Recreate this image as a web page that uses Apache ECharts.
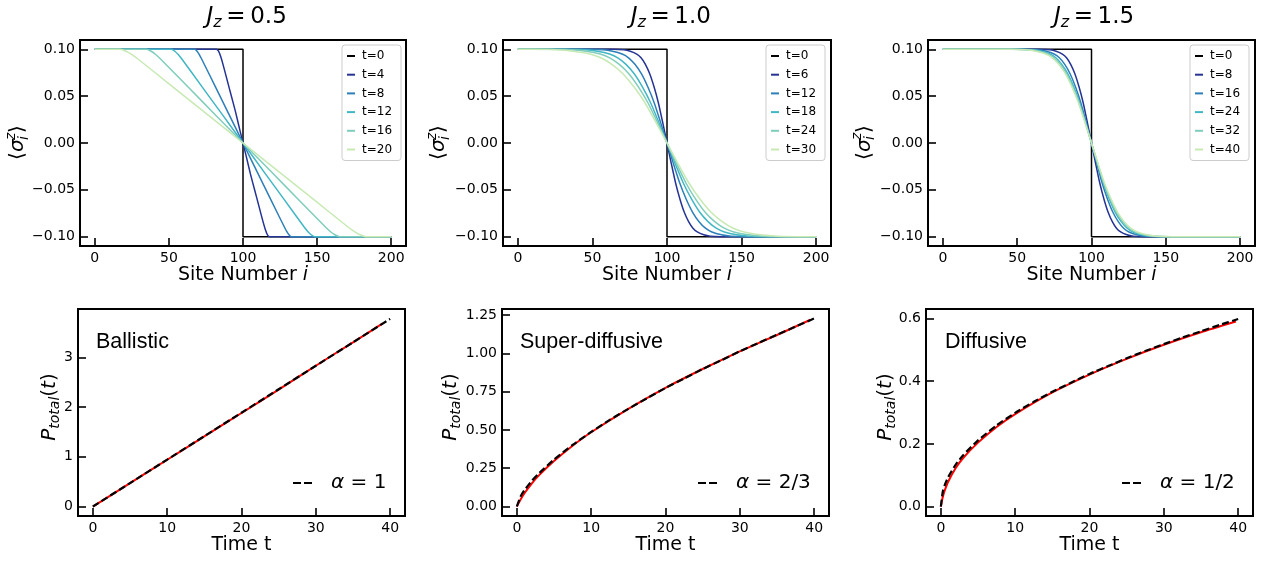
<!DOCTYPE html>
<html><head><meta charset="utf-8">
<script src="https://cdn.jsdelivr.net/npm/echarts@6/dist/echarts.min.js"></script>
<style>html,body{margin:0;padding:0;background:#fff}#c{width:1273px;height:561px}</style>
</head><body><div id="c"></div>
<script>
// ---------- tick labels / categories ----------
const SITE_TICKS = [0, 50, 100, 150, 200];
const SIGMA_TICKS = [-0.1, -0.05, 0, 0.05, 0.1];
const TIME_TICKS = [0, 10, 20, 30, 40];
const P_TICKS_A = [0, 1, 2, 3];
const P_TICKS_B = [0, 0.25, 0.5, 0.75, 1, 1.25];
const P_TICKS_C = [0, 0.2, 0.4, 0.6];
const JZ_LABELS = ['0.5', '1.0', '1.5'];
const TIMES_A = [0, 4, 8, 12, 16, 20];
const TIMES_B = [0, 6, 12, 18, 24, 30];
const TIMES_C = [0, 8, 16, 24, 32, 40];
const REGIMES = ['Ballistic', 'Super-diffusive', 'Diffusive'];
const ALPHAS = ['1', '2/3', '1/2'];

// ---------- profiles <sigma_i^z> vs site, Jz = 0.5 ----------
const A_T0 = [[0,0.1],[100,0.1],[100,-0.1],[200,-0.1]];
const A_T4 = [[0,0.1],[82,0.1],[83.5,0.098],[85,0.092],[86.5,0.084],[89,0.069],[92,0.051],[95,0.033],[98,0.013],[100,0],[102,-0.013],[105,-0.033],[108,-0.051],[111,-0.069],[113.5,-0.084],[115,-0.092],[116.5,-0.098],[118,-0.1],[200,-0.1]];
const A_T8 = [[0,0.1],[67.5,0.1],[69,0.098],[70.5,0.0945],[72,0.09],[81.4,0.06],[90.7,0.03],[100,0],[109.3,-0.03],[118.6,-0.06],[128,-0.09],[129.5,-0.0945],[131,-0.098],[132.5,-0.1],[200,-0.1]];
const A_T12 = [[0,0.1],[51.7,0.1],[54,0.098],[56.3,0.0945],[58.6,0.09],[72.4,0.06],[86.2,0.03],[100,0],[113.8,-0.03],[127.6,-0.06],[141.4,-0.09],[143.7,-0.0945],[146,-0.098],[148.3,-0.1],[200,-0.1]];
const A_T16 = [[0,0.1],[34.9,0.1],[38,0.098],[41.1,0.0945],[44.2,0.09],[62.8,0.06],[81.4,0.03],[100,0],[118.6,-0.03],[137.2,-0.06],[155.8,-0.09],[158.9,-0.0945],[162,-0.098],[165.1,-0.1],[200,-0.1]];
const A_T20 = [[0,0.1],[17,0.1],[21,0.098],[25,0.0945],[28.9,0.09],[52.6,0.06],[76.3,0.03],[100,0],[123.7,-0.03],[147.4,-0.06],[171.1,-0.09],[175,-0.0945],[179,-0.098],[183,-0.1],[200,-0.1]];

// ---------- Jz = 1.0 ----------
const B_T0 = [[0,0.1],[100,0.1],[100,-0.1],[200,-0.1]];
const B_T6 = [[0,0.1],[63.75,0.1],[71,0.0995],[75.35,0.098],[79.7,0.095],[82.6,0.091],[85.5,0.084],[88.4,0.074],[91.3,0.06],[94.2,0.043],[97.1,0.022],[100,0],[102.9,-0.022],[105.8,-0.043],[108.7,-0.06],[111.6,-0.074],[114.5,-0.084],[117.4,-0.091],[120.3,-0.095],[124.65,-0.098],[129,-0.0995],[136.25,-0.1],[200,-0.1]];
const B_T12 = [[0,0.1],[46.25,0.1],[57,0.0995],[63.45,0.098],[69.9,0.095],[74.2,0.091],[78.5,0.084],[82.8,0.074],[87.1,0.06],[91.4,0.043],[95.7,0.022],[100,0],[104.3,-0.022],[108.6,-0.043],[112.9,-0.06],[117.2,-0.074],[121.5,-0.084],[125.8,-0.091],[130.1,-0.095],[136.55,-0.098],[143,-0.0995],[153.75,-0.1],[200,-0.1]];
const B_T18 = [[0,0.1],[31.25,0.1],[45,0.0995],[53.25,0.098],[61.5,0.095],[67,0.091],[72.5,0.084],[78,0.074],[83.5,0.06],[89,0.043],[94.5,0.022],[100,0],[105.5,-0.022],[111,-0.043],[116.5,-0.06],[122,-0.074],[127.5,-0.084],[133,-0.091],[138.5,-0.095],[146.75,-0.098],[155,-0.0995],[168.75,-0.1],[200,-0.1]];
const B_T24 = [[0,0.1],[20,0.1],[36,0.0995],[45.6,0.098],[55.2,0.095],[61.6,0.091],[68,0.084],[74.4,0.074],[80.8,0.06],[87.2,0.043],[93.6,0.022],[100,0],[106.4,-0.022],[112.8,-0.043],[119.2,-0.06],[125.6,-0.074],[132,-0.084],[138.4,-0.091],[144.8,-0.095],[154.4,-0.098],[164,-0.0995],[180,-0.1],[200,-0.1]];
const B_T30 = [[0,0.1],[7.5,0.1],[26,0.0995],[37.1,0.098],[48.2,0.095],[55.6,0.091],[63,0.084],[70.4,0.074],[77.8,0.06],[85.2,0.043],[92.6,0.022],[100,0],[107.4,-0.022],[114.8,-0.043],[122.2,-0.06],[129.6,-0.074],[137,-0.084],[144.4,-0.091],[151.8,-0.095],[162.9,-0.098],[174,-0.0995],[192.5,-0.1],[200,-0.1]];

// ---------- Jz = 1.5 ----------
const C_T0 = [[0,0.1],[100,0.1],[100,-0.1],[200,-0.1]];
const C_T8 = [[0,0.1],[65,0.1],[72,0.0995],[76.2,0.098],[80.4,0.095],[83.2,0.091],[86,0.084],[88.8,0.074],[91.6,0.06],[94.4,0.043],[97.2,0.022],[100,0],[102.8,-0.022],[105.6,-0.043],[108.4,-0.06],[111.2,-0.074],[114,-0.084],[116.8,-0.091],[119.6,-0.095],[123.8,-0.098],[128,-0.0995],[135,-0.1],[200,-0.1]];
const C_T16 = [[0,0.1],[55,0.1],[64,0.0995],[69.4,0.098],[74.8,0.095],[78.4,0.091],[82,0.084],[85.6,0.074],[89.2,0.06],[92.8,0.043],[96.4,0.022],[100,0],[103.6,-0.022],[107.2,-0.043],[110.8,-0.06],[114.4,-0.074],[118,-0.084],[121.6,-0.091],[125.2,-0.095],[130.6,-0.098],[136,-0.0995],[145,-0.1],[200,-0.1]];
const C_T24 = [[0,0.1],[50,0.1],[60,0.0995],[66,0.098],[72,0.095],[76,0.091],[80,0.084],[84,0.074],[88,0.06],[92,0.043],[96,0.022],[100,0],[104,-0.022],[108,-0.043],[112,-0.06],[116,-0.074],[120,-0.084],[124,-0.091],[128,-0.095],[134,-0.098],[140,-0.0995],[150,-0.1],[200,-0.1]];
const C_T32 = [[0,0.1],[47.5,0.1],[58,0.0995],[64.3,0.098],[70.6,0.095],[74.8,0.091],[79,0.084],[83.2,0.074],[87.4,0.06],[91.6,0.043],[95.8,0.022],[100,0],[104.2,-0.022],[108.4,-0.043],[112.6,-0.06],[116.8,-0.074],[121,-0.084],[125.2,-0.091],[129.4,-0.095],[135.7,-0.098],[142,-0.0995],[152.5,-0.1],[200,-0.1]];
const C_T40 = [[0,0.1],[45,0.1],[56,0.0995],[62.6,0.098],[69.2,0.095],[73.6,0.091],[78,0.084],[82.4,0.074],[86.8,0.06],[91.2,0.043],[95.6,0.022],[100,0],[104.4,-0.022],[108.8,-0.043],[113.2,-0.06],[117.6,-0.074],[122,-0.084],[126.4,-0.091],[130.8,-0.095],[137.4,-0.098],[144,-0.0995],[155,-0.1],[200,-0.1]];

// ---------- P_total(t) ----------
const T_A = [0, 5, 10, 15, 20, 25, 30, 35, 39];
const P_A = [0, 0.47, 0.94, 1.41, 1.88, 2.35, 2.83, 3.30, 3.68];
const T_A_FIT = [0, 5, 10, 15, 20, 25, 30, 35, 40];
const P_A_FIT = [0, 0.471, 0.943, 1.414, 1.886, 2.357, 2.829, 3.300, 3.772];
const T_B = [0, 0.5, 1, 2, 3, 5, 7.5, 10, 15, 20, 25, 30, 35, 39.5];
const P_B = [0, 0.045, 0.085, 0.15, 0.205, 0.297, 0.397, 0.485, 0.638, 0.775, 0.898, 1.013, 1.12, 1.22];
const T_B_FIT = [0, 0.5, 1, 2, 3, 5, 7.5, 10, 12.5, 15, 17.5, 20, 22.5, 25, 27.5, 30, 32.5, 35, 37.5, 40];
const P_B_FIT = [0, 0.066, 0.105, 0.167, 0.218, 0.307, 0.402, 0.487, 0.566, 0.638, 0.707, 0.774, 0.836, 0.898, 0.955, 1.014, 1.068, 1.122, 1.175, 1.228];
const T_C = [0, 0.25, 0.5, 1, 2, 3, 5, 7.5, 10, 15, 20, 25, 30, 35, 39.7];
const P_C = [0, 0.03, 0.05, 0.08, 0.123, 0.155, 0.204, 0.254, 0.295, 0.364, 0.421, 0.471, 0.516, 0.556, 0.59];
const T_C_FIT = [0, 0.25, 0.5, 1, 2, 3, 5, 7.5, 10, 12.5, 15, 17.5, 20, 22.5, 25, 27.5, 30, 32.5, 35, 37.5, 40];
const P_C_FIT = [0, 0.047, 0.067, 0.0945, 0.134, 0.164, 0.211, 0.259, 0.299, 0.334, 0.366, 0.395, 0.423, 0.448, 0.473, 0.496, 0.518, 0.539, 0.559, 0.579, 0.598];

// ---------- styling / layout ----------
const COLORS = ['#000000', '#253494', '#2c7fb8', '#41b6c4', '#7fcdbb', '#c7e9b4'];
const FONT = 'DejaVu Sans';
const GRIDS = [
  {left: 80, top: 40, width: 326, height: 206},
  {left: 503, top: 40, width: 328, height: 206},
  {left: 928, top: 40, width: 327, height: 206},
  {left: 78, top: 309, width: 327, height: 207},
  {left: 502, top: 309, width: 327, height: 207},
  {left: 926, top: 309, width: 327, height: 207}
];
const TOP_CURVES = [
  [A_T0, A_T4, A_T8, A_T12, A_T16, A_T20],
  [B_T0, B_T6, B_T12, B_T18, B_T24, B_T30],
  [C_T0, C_T8, C_T16, C_T24, C_T32, C_T40]
];
const TOP_TIMES = [TIMES_A, TIMES_B, TIMES_C];
const BOT = [
  {t: T_A, p: P_A, tf: T_A_FIT, pf: P_A_FIT, ticks: P_TICKS_A, min: -0.19, max: 3.97, dec: 0},
  {t: T_B, p: P_B, tf: T_B_FIT, pf: P_B_FIT, ticks: P_TICKS_B, min: -0.062, max: 1.29, dec: 2},
  {t: T_C, p: P_C, tf: T_C_FIT, pf: P_C_FIT, ticks: P_TICKS_C, min: -0.03, max: 0.63, dec: 1}
];
const TOP_LEGEND_POS = [342, 766, 1190];
const ALPHA_LEGEND_POS = [293, 698, 1122];

const fmt = d => v => (v < 0 ? '\u2212' : '') + Math.abs(v).toFixed(d);
const zip = (a, b) => a.map((x, i) => [x, b[i]]);

const tickStyle = {inside: true, length: 8, lineStyle: {color: '#000', width: 1.6}};
const labelStyle = {color: '#000', fontSize: 14, fontFamily: FONT, margin: 5};
const noLine = {show: false, onZero: false};

const xAxes = [], yAxes = [], series = [], legends = [], graphics = [];

for (let p = 0; p < 3; p++) {
  xAxes.push({
    type: 'value', gridIndex: p, min: -10, max: 210,
    axisLine: noLine, splitLine: {show: false},
    axisTick: Object.assign({customValues: SITE_TICKS}, tickStyle),
    axisLabel: Object.assign({customValues: SITE_TICKS, formatter: v => String(v)}, labelStyle),
    name: '{n|Site Number }{i|i}', nameLocation: 'middle', nameGap: 17,
    nameTextStyle: {rich: {n: {fontFamily: FONT, fontSize: 19, color: '#000'}, i: {fontFamily: FONT, fontSize: 19, fontStyle: 'italic', color: '#000'}}}
  });
  yAxes.push({
    type: 'value', gridIndex: p, min: -0.11, max: 0.11,
    axisLine: noLine, splitLine: {show: false},
    axisTick: Object.assign({customValues: SIGMA_TICKS}, tickStyle),
    axisLabel: Object.assign({customValues: SIGMA_TICKS, formatter: fmt(2)}, labelStyle)
  });
  const names = [];
  TOP_CURVES[p].forEach((d, k) => {
    const name = 'p' + p + '|t=' + TOP_TIMES[p][k];
    names.push({name, itemStyle: {color: COLORS[k], borderWidth: 0}});
    series.push({
      type: 'line', name, xAxisIndex: p, yAxisIndex: p, data: d,
      showSymbol: false, smooth: k === 0 ? false : 0.2,
      lineStyle: {color: COLORS[k], width: 1.5}, itemStyle: {color: COLORS[k]},
      silent: true, animation: false
    });
  });
  legends.push({
    data: names, orient: 'vertical', left: TOP_LEGEND_POS[p], top: 45,
    icon: 'rect', itemWidth: 8, itemHeight: 2, itemGap: 6.7,
    padding: [5, 9, 5, 5], borderColor: '#cccccc', borderWidth: 1, borderRadius: 3,
    backgroundColor: 'rgba(255,255,255,0.85)', selectedMode: false,
    formatter: n => n.split('|')[1],
    textStyle: {fontFamily: FONT, fontSize: 12, color: '#000', lineHeight: 12, padding: [0, 0, 0, 2]}
  });
}

for (let b = 0; b < 3; b++) {
  const g = 3 + b, cfg = BOT[b];
  xAxes.push({
    type: 'value', gridIndex: g, min: -2, max: 42,
    axisLine: noLine, splitLine: {show: false},
    axisTick: Object.assign({customValues: TIME_TICKS}, tickStyle),
    axisLabel: Object.assign({customValues: TIME_TICKS, formatter: v => String(v)}, labelStyle),
    name: 'Time t', nameLocation: 'middle', nameGap: 20,
    nameTextStyle: {fontFamily: FONT, fontSize: 19, color: '#000'}
  });
  yAxes.push({
    type: 'value', gridIndex: g, min: cfg.min, max: cfg.max,
    axisLine: noLine, splitLine: {show: false},
    axisTick: Object.assign({customValues: cfg.ticks}, tickStyle),
    axisLabel: Object.assign({customValues: cfg.ticks, formatter: fmt(cfg.dec)}, labelStyle)
  });
  series.push({
    type: 'line', name: 'data' + b, xAxisIndex: g, yAxisIndex: g, data: zip(cfg.t, cfg.p),
    showSymbol: false, smooth: 0.2,
    lineStyle: {color: '#ff0000', width: 2}, itemStyle: {color: '#ff0000'}, silent: true, animation: false
  });
  const fitName = 'fit|' + b;
  series.push({
    type: 'line', name: fitName, xAxisIndex: g, yAxisIndex: g, data: zip(cfg.tf, cfg.pf),
    showSymbol: false, smooth: 0.2,
    lineStyle: {color: '#000', width: 2.2, type: [7, 3.3]}, itemStyle: {color: '#000'}, silent: true, animation: false
  });
  legends.push({
    data: [{name: fitName, icon: 'path://M0,0H8V2H0Z M11,0H19V2H11Z', itemStyle: {color: '#000', borderWidth: 0}}],
    left: ALPHA_LEGEND_POS[b], top: 473, itemWidth: 19, itemHeight: 2.4, padding: 0, selectedMode: false,
    formatter: () => '{a|\u03b1}{n| = ' + ALPHAS[b] + '}',
    textStyle: {rich: {
      a: {fontFamily: FONT, fontSize: 20, fontStyle: 'italic', color: '#000', padding: [0, 0, 0, 14]},
      n: {fontFamily: FONT, fontSize: 20, color: '#000'}
    }}
  });
}

// ---------- text decorations ----------
const TITLE_X = [246.7, 670.8, 1094];
const SIG_LABEL_X = [18, 439, 864.5];
const P_LABEL_X = [50, 451, 886];
const REGIME_X = [96, 520, 945];
for (let p = 0; p < 3; p++) {
  graphics.push({
    type: 'text', x: TITLE_X[p], y: 17, silent: true,
    style: {
      text: '{j|J}{s|z}{e|\u2009=\u2009' + JZ_LABELS[p] + '}', align: 'center', verticalAlign: 'middle',
      textAlign: 'center', textVerticalAlign: 'middle',
      rich: {
        j: {fontFamily: FONT, fontStyle: 'italic', fontSize: 23, fill: '#000'},
        s: {fontFamily: FONT, fontStyle: 'italic', fontSize: 16, fill: '#000', padding: [12, 0, 0, 0]},
        e: {fontFamily: FONT, fontSize: 23, fill: '#000'}
      }
    }
  });
  graphics.push({
    type: 'group', x: SIG_LABEL_X[p], y: 143, rotation: Math.PI / 2, silent: true,
    children: [
      {type: 'text', x: -17, y: 0, style: {text: '\u27e8', fontFamily: FONT, fontSize: 20, fill: '#000', align: 'left', verticalAlign: 'middle', textAlign: 'left', textVerticalAlign: 'middle'}},
      {type: 'text', x: -9, y: 0, style: {text: '\u03c3', fontFamily: FONT, fontStyle: 'italic', fontSize: 20, fill: '#000', align: 'left', verticalAlign: 'middle', textAlign: 'left', textVerticalAlign: 'middle'}},
      {type: 'text', x: 3, y: -7, style: {text: 'z', fontFamily: FONT, fontStyle: 'italic', fontSize: 14, fill: '#000', align: 'left', verticalAlign: 'middle', textAlign: 'left', textVerticalAlign: 'middle'}},
      {type: 'text', x: 3, y: 6, style: {text: 'i', fontFamily: FONT, fontStyle: 'italic', fontSize: 14, fill: '#000', align: 'left', verticalAlign: 'middle', textAlign: 'left', textVerticalAlign: 'middle'}},
      {type: 'text', x: 10, y: 0, style: {text: '\u27e9', fontFamily: FONT, fontSize: 20, fill: '#000', align: 'left', verticalAlign: 'middle', textAlign: 'left', textVerticalAlign: 'middle'}}
    ]
  });
  graphics.push({
    type: 'text', x: P_LABEL_X[p], y: 407, rotation: Math.PI / 2, silent: true,
    style: {
      text: '{p|P}{s|total}{n|(}{t|t}{n|)}', align: 'center', verticalAlign: 'middle',
      textAlign: 'center', textVerticalAlign: 'middle',
      rich: {
        p: {fontFamily: FONT, fontStyle: 'italic', fontSize: 20, fill: '#000'},
        s: {fontFamily: FONT, fontStyle: 'italic', fontSize: 14, fill: '#000', padding: [11, 0, 0, 0]},
        n: {fontFamily: FONT, fontSize: 20, fill: '#000'},
        t: {fontFamily: FONT, fontStyle: 'italic', fontSize: 20, fill: '#000'}
      }
    }
  });
  graphics.push({
    type: 'text', x: REGIME_X[p], y: 342, silent: true,
    style: {text: REGIMES[p], fontFamily: 'Liberation Sans', fontSize: 21.5, fill: '#000',
      align: 'left', verticalAlign: 'middle', textAlign: 'left', textVerticalAlign: 'middle'}
  });
}

const chart = echarts.init(document.getElementById('c'), null, {renderer: 'canvas'});
chart.setOption({
  animation: false,
  backgroundColor: '#fff',
  textStyle: {fontFamily: FONT},
  grid: GRIDS.map(g => Object.assign({show: true, borderColor: '#000', borderWidth: 2, backgroundColor: 'transparent', containLabel: false}, g)),
  xAxis: xAxes,
  yAxis: yAxes,
  legend: legends,
  series: series,
  graphic: graphics
});
</script>
</body></html>
